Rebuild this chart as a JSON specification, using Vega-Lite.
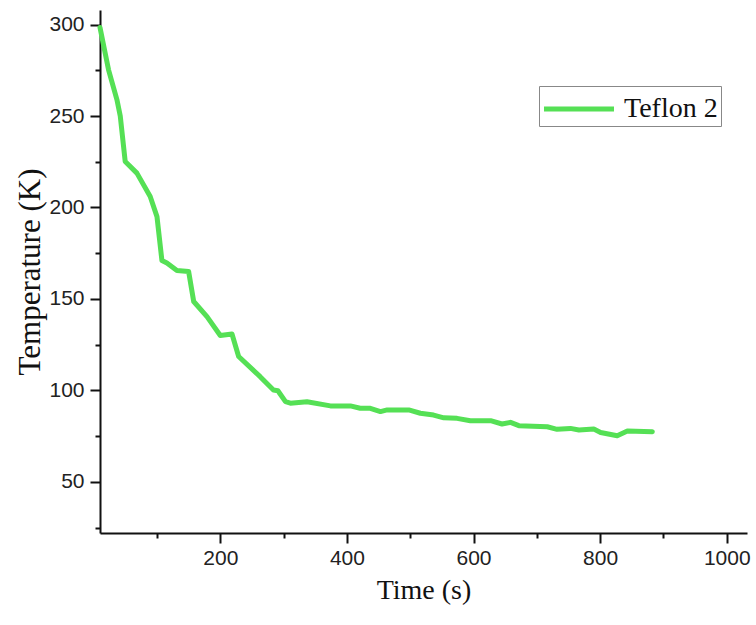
{
  "$schema": "https://vega.github.io/schema/vega-lite/v6.json",
  "width": 647,
  "height": 523,
  "autosize": "none",
  "padding": {"left": 100, "top": 10, "right": 9, "bottom": 92},
  "background": "white",
  "config": {
    "view": {"stroke": null},
    "axis": {
      "domainColor": "#111",
      "domainWidth": 2,
      "tickColor": "#111",
      "tickWidth": 2,
      "grid": false,
      "labelFont": "Liberation Sans",
      "labelFontSize": 21,
      "labelColor": "#222",
      "titleFont": "Liberation Serif",
      "titleFontWeight": "normal",
      "titleColor": "#111"
    }
  },
  "data": {
    "values": [
      {"t": 10, "T": 298.4, "s": "Teflon 2"},
      {"t": 23.4, "T": 275.4, "s": "Teflon 2"},
      {"t": 36.7, "T": 259, "s": "Teflon 2"},
      {"t": 42, "T": 250, "s": "Teflon 2"},
      {"t": 49.8, "T": 225.2, "s": "Teflon 2"},
      {"t": 68.3, "T": 218.8, "s": "Teflon 2"},
      {"t": 89.3, "T": 206, "s": "Teflon 2"},
      {"t": 100, "T": 195, "s": "Teflon 2"},
      {"t": 107.8, "T": 171, "s": "Teflon 2"},
      {"t": 115.7, "T": 169.6, "s": "Teflon 2"},
      {"t": 131.5, "T": 165.5, "s": "Teflon 2"},
      {"t": 150, "T": 165, "s": "Teflon 2"},
      {"t": 158, "T": 148.6, "s": "Teflon 2"},
      {"t": 179, "T": 140.3, "s": "Teflon 2"},
      {"t": 200, "T": 130, "s": "Teflon 2"},
      {"t": 218.5, "T": 130.8, "s": "Teflon 2"},
      {"t": 229, "T": 118.5, "s": "Teflon 2"},
      {"t": 263, "T": 107.5, "s": "Teflon 2"},
      {"t": 284, "T": 100.2, "s": "Teflon 2"},
      {"t": 291, "T": 99.8, "s": "Teflon 2"},
      {"t": 303, "T": 93.8, "s": "Teflon 2"},
      {"t": 310.7, "T": 93, "s": "Teflon 2"},
      {"t": 337, "T": 93.8, "s": "Teflon 2"},
      {"t": 374, "T": 91.5, "s": "Teflon 2"},
      {"t": 405.5, "T": 91.5, "s": "Teflon 2"},
      {"t": 421, "T": 90.2, "s": "Teflon 2"},
      {"t": 437, "T": 90.2, "s": "Teflon 2"},
      {"t": 453, "T": 88.4, "s": "Teflon 2"},
      {"t": 463.6, "T": 89.3, "s": "Teflon 2"},
      {"t": 497.7, "T": 89.3, "s": "Teflon 2"},
      {"t": 516, "T": 87.5, "s": "Teflon 2"},
      {"t": 537, "T": 86.5, "s": "Teflon 2"},
      {"t": 553, "T": 85, "s": "Teflon 2"},
      {"t": 574, "T": 84.7, "s": "Teflon 2"},
      {"t": 595, "T": 83.4, "s": "Teflon 2"},
      {"t": 627, "T": 83.4, "s": "Teflon 2"},
      {"t": 645, "T": 81.6, "s": "Teflon 2"},
      {"t": 658.5, "T": 82.5, "s": "Teflon 2"},
      {"t": 671.6, "T": 80.7, "s": "Teflon 2"},
      {"t": 716.5, "T": 80.1, "s": "Teflon 2"},
      {"t": 732, "T": 78.7, "s": "Teflon 2"},
      {"t": 753, "T": 79.2, "s": "Teflon 2"},
      {"t": 766.5, "T": 78.3, "s": "Teflon 2"},
      {"t": 790, "T": 78.9, "s": "Teflon 2"},
      {"t": 800.8, "T": 77, "s": "Teflon 2"},
      {"t": 827, "T": 75.2, "s": "Teflon 2"},
      {"t": 843, "T": 77.8, "s": "Teflon 2"},
      {"t": 882.5, "T": 77.4, "s": "Teflon 2"}
    ]
  },
  "mark": {"type": "line", "strokeWidth": 5, "strokeJoin": "round", "strokeCap": "round"},
  "encoding": {
    "x": {
      "field": "t",
      "type": "quantitative",
      "scale": {"domain": [10, 1032], "nice": false, "zero": false},
      "axis": {
        "title": "Time (s)",
        "titleFontSize": 28,
        "titlePadding": 8,
        "values": [100, 200, 300, 400, 500, 600, 700, 800, 900, 1000],
        "labelExpr": "datum.value % 200 === 0 ? datum.label : ''",
        "tickSize": {"condition": {"test": "datum.value % 200 !== 0", "value": 5}, "value": 10},
        "labelPadding": 4,
        "format": "d"
      }
    },
    "y": {
      "field": "T",
      "type": "quantitative",
      "scale": {"domain": [22, 308], "nice": false, "zero": false},
      "axis": {
        "title": "Temperature (K)",
        "titleFontSize": 31,
        "titlePadding": 2,
        "values": [25, 50, 75, 100, 125, 150, 175, 200, 225, 250, 275, 300],
        "labelExpr": "datum.value % 50 === 0 ? datum.label : ''",
        "tickSize": {"condition": {"test": "datum.value % 50 !== 0", "value": 5}, "value": 10},
        "labelPadding": 6
      }
    },
    "color": {
      "field": "s",
      "type": "nominal",
      "scale": {"range": ["#55e055"]},
      "legend": {
        "title": null,
        "orient": "none",
        "legendX": 439,
        "legendY": 76,
        "strokeColor": "#888",
        "padding": 3,
        "symbolType": "M-2,0H2",
        "symbolSize": 1225,
        "symbolOffset": 17,
        "symbolStrokeWidth": 5,
        "labelFont": "Liberation Serif",
        "labelFontSize": 28,
        "labelColor": "#111",
        "labelOffset": 25
      }
    }
  }
}
